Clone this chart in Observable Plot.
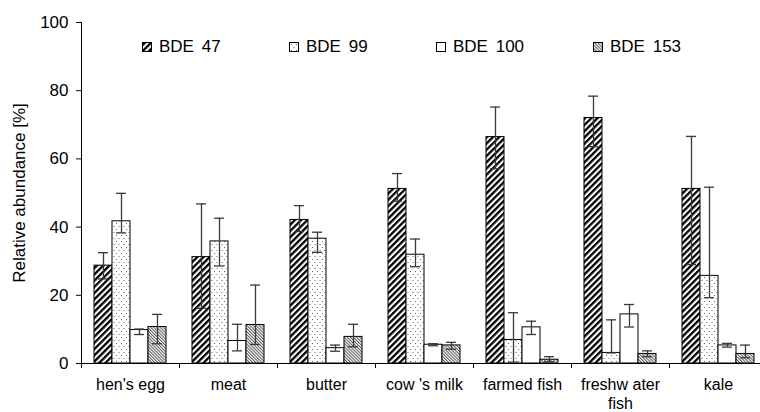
<!DOCTYPE html>
<html>
<head>
<meta charset="utf-8">
<script src="https://cdn.jsdelivr.net/npm/d3@7"></script>
<script src="https://cdn.jsdelivr.net/npm/@observablehq/plot@0.6"></script>
<style>
  html, body { margin: 0; padding: 0; background: #fff; }
  #wrap { position: relative; width: 760px; height: 412px; font-family: "Liberation Sans", Arial, sans-serif; }
  #legend { position: absolute; top: 37px; left: 0; width: 760px; height: 20px; font-size: 17px; color: #000; }
  .item { position: absolute; top: 0; display: flex; align-items: center; height: 20px; white-space: pre; word-spacing: 3px; }
  .sw { width: 8px; height: 8px; border: 1px solid #000; margin-right: 7px; }
</style>
</head>
<body>
<svg width="0" height="0" style="position:absolute">
  <defs>
    <pattern id="p47" patternUnits="userSpaceOnUse" width="4.4" height="4.4" patternTransform="rotate(45)">
      <rect x="0" y="0" width="4.4" height="4.4" fill="#fff"/>
      <rect x="0" y="0" width="2.3" height="4.4" fill="#000"/>
    </pattern>
    <pattern id="p99" patternUnits="userSpaceOnUse" width="5" height="6">
      <rect x="0" y="0" width="5" height="6" fill="#fff"/>
      <rect x="1" y="1" width="1" height="1" fill="#666"/>
      <rect x="3.5" y="4" width="1" height="1" fill="#666"/>
    </pattern>
    <pattern id="p100" patternUnits="userSpaceOnUse" width="4" height="4">
      <rect x="0" y="0" width="4" height="4" fill="#fff"/>
    </pattern>
    <pattern id="p153" patternUnits="userSpaceOnUse" width="2.2" height="2.2" patternTransform="rotate(-45)">
      <rect x="0" y="0" width="2.2" height="2.2" fill="#fff"/>
      <rect x="0" y="0" width="1" height="2.2" fill="#555"/>
    </pattern>
  </defs>
</svg>
<div id="wrap">
  <div id="chart"></div>
  <div id="legend"></div>
</div>
<script>
// ---- data ----
const categories = ["hen's egg", "meat", "butter", "cow 's milk", "farmed fish", "freshw ater\nfish", "kale"];
const series = ["BDE 47", "BDE 99", "BDE 100", "BDE 153"];

const bde47    = [28.7, 31.2, 42.1, 51.2, 66.4, 72.0, 51.2];
const bde47Lo  = [24.8, 16.2, 38.7, 47.6, 57.1, 63.6, 29.0];
const bde47Hi  = [32.5, 46.8, 46.3, 55.7, 75.2, 78.4, 66.6];

const bde99    = [41.7, 35.8, 36.6, 31.9, 6.9, 3.1, 25.7];
const bde99Lo  = [38.3, 28.6, 32.6, 28.4, 0.4, 3.1, 19.3];
const bde99Hi  = [49.9, 42.6, 38.5, 36.5, 14.9, 12.8, 51.7];

const bde100   = [9.8, 6.6, 4.5, 5.5, 10.6, 14.4, 5.3];
const bde100Lo = [8.5, 3.7, 3.6, 5.2, 8.5, 10.7, 4.8];
const bde100Hi = [10.1, 11.5, 5.4, 5.8, 12.4, 17.3, 5.9];

const bde153   = [10.7, 11.3, 7.8, 5.3, 1.1, 2.8, 2.8];
const bde153Lo = [5.8, 5.6, 4.9, 4.2, 0.5, 2.0, 1.7];
const bde153Hi = [14.4, 23.0, 11.5, 6.2, 2.0, 3.7, 5.4];

const yTicks = [0, 20, 40, 60, 80, 100];
const yLabel = "Relative abundance [%]";
const fills = ["url(#p47)", "url(#p99)", "url(#p100)", "url(#p153)"];

// ---- table ----
const vals = [bde47, bde99, bde100, bde153];
const los = [bde47Lo, bde99Lo, bde100Lo, bde153Lo];
const his = [bde47Hi, bde99Hi, bde100Hi, bde153Hi];
const rows = categories.flatMap((c, i) => series.map((s, j) => ({
  category: c, series: s, value: vals[j][i], lo: los[j][i], hi: his[j][i]
})));

const errColor = "#3a3a3a";
const chart = Plot.plot({
  width: 760,
  height: 412,
  marginLeft: 81,
  marginRight: -7,
  marginTop: 22,
  marginBottom: 49,
  style: { fontFamily: "'Liberation Sans', Arial, sans-serif", fontSize: "16px", color: "#000", background: "#fff", overflow: "visible" },
  fx: { domain: categories, padding: 0 },
  x: { domain: series, paddingInner: 0, paddingOuter: 0.72, axis: null },
  y: { domain: [0, 100], axis: null },
  color: { type: "ordinal", domain: series, range: fills },
  marks: [
    Plot.barY(rows, { fx: "category", x: "series", y: "value", fill: "series", stroke: "#000", strokeWidth: 1 }),
    Plot.ruleX(rows, { fx: "category", x: "series", y1: "lo", y2: "hi", stroke: errColor, strokeWidth: 1.3 }),
    Plot.tickY(rows, { fx: "category", x: "series", y: "hi", stroke: errColor, strokeWidth: 1.3, insetLeft: 4, insetRight: 4 }),
    Plot.tickY(rows, { fx: "category", x: "series", y: "lo", stroke: errColor, strokeWidth: 1.3, insetLeft: 4, insetRight: 4 }),
    Plot.ruleY([0], { stroke: "#000", strokeWidth: 1 }),
    Plot.frame({ anchor: "left", facetAnchor: "left", stroke: "#000", strokeWidth: 1 }),
    Plot.axisY({ ticks: yTicks, tickSize: 5, tickPadding: 8, fontSize: 17, label: yLabel, labelAnchor: "center", labelArrow: "none", labelOffset: 69 }),
    Plot.axisFx({ anchor: "bottom", tickSize: 0, tickPadding: 13, fontSize: 16, lineHeight: 1.17, label: null, style: { letterSpacing: "0.4px" } }),
    Plot.axisFx({ anchor: "bottom", tickSize: 5, tickFormat: () => "", dx: -49, label: null })
  ]
});
document.getElementById("chart").appendChild(chart);

// ---- legend ----
const legendX = [142, 289, 436, 593];
const legend = document.getElementById("legend");
series.forEach((s, j) => {
  const item = document.createElement("div");
  item.className = "item";
  item.style.left = legendX[j] + "px";
  const sw = document.createElement("div");
  sw.className = "sw";
  sw.innerHTML = `<svg width="8" height="8" style="display:block"><rect width="8" height="8" fill="${fills[j]}"/></svg>`;
  const t = document.createElement("span");
  t.textContent = s;
  item.appendChild(sw);
  item.appendChild(t);
  legend.appendChild(item);
});
</script>
</body>
</html>
